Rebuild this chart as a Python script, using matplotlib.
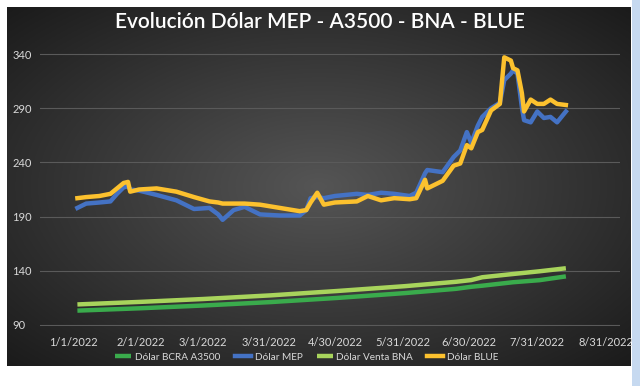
"""Evolucion Dolar MEP - A3500 - BNA - BLUE (2022)."""

import numpy as np
import pandas as pd
import matplotlib

matplotlib.use("Agg")
import matplotlib.pyplot as plt
from matplotlib.patches import Rectangle

# --- data ---
fechas_mep_blue = [
    "2022-01-03", "2022-01-07", "2022-01-13", "2022-01-18", "2022-01-21",
    "2022-01-24", "2022-01-26", "2022-01-27", "2022-01-31", "2022-02-08",
    "2022-02-17", "2022-02-25", "2022-03-04", "2022-03-08", "2022-03-10",
    "2022-03-15", "2022-03-20", "2022-03-27", "2022-04-05", "2022-04-14",
    "2022-04-17", "2022-04-19", "2022-04-22", "2022-04-25", "2022-04-30",
    "2022-05-10", "2022-05-15", "2022-05-21", "2022-05-27", "2022-06-03",
    "2022-06-06", "2022-06-10", "2022-06-11", "2022-06-18", "2022-06-23",
    "2022-06-26", "2022-06-29", "2022-07-01", "2022-07-04", "2022-07-06",
    "2022-07-10", "2022-07-14", "2022-07-16", "2022-07-19", "2022-07-20",
    "2022-07-22", "2022-07-24", "2022-07-25", "2022-07-28", "2022-07-31",
    "2022-08-03", "2022-08-06", "2022-08-09", "2022-08-13",
]
dolar_blue = [
    207, 208, 209, 211, 216, 221, 222, 213, 215, 216,
    213, 208, 204, 203, 202, 202, 202, 201, 198, 195,
    196, 203, 212, 201, 203, 204, 209, 205, 207, 206,
    207, 224, 216, 223, 237, 239, 256, 253, 268, 270,
    288, 294, 337, 334, 327, 325, 304, 287, 298, 294,
    294, 298, 294, 293,
]
dolar_mep = [
    198, 202, 203, 204, 211, 217, 218, 215, 214, 210,
    205, 197, 198, 192, 187, 196, 199, 192, 191, 191,
    196, 207, 208, 207, 209, 211, 210, 212, 211, 209,
    212, 230, 233, 231, 245, 251, 268, 258, 274, 282,
    290, 295, 316, 322, 325, 322, 291, 279, 277, 287,
    281, 282, 277, 287,
]

fechas_oficial = [
    "2022-01-03", "2022-02-01", "2022-03-01", "2022-04-01", "2022-05-01",
    "2022-06-01", "2022-06-24", "2022-07-01", "2022-07-06", "2022-07-20",
    "2022-08-01", "2022-08-13",
]
dolar_a3500 = [103.2, 105.4, 107.9, 111.1, 114.9, 119.4, 123.3, 125.2, 126.2, 129.4, 131.3, 134.8]
dolar_bna = [108.9, 111.3, 113.9, 117.3, 121.3, 125.8, 129.8, 131.4, 134.0, 137.0, 139.5, 142.3]

tick_fechas = [
    "2022-01-01", "2022-02-01", "2022-03-01", "2022-03-31", "2022-04-30",
    "2022-05-31", "2022-06-30", "2022-07-31", "2022-08-31",
]
tick_labels = ["1/1/2022", "2/1/2022", "3/1/2022", "3/31/2022", "4/30/2022",
               "5/31/2022", "6/30/2022", "7/31/2022", "8/31/2022"]
y_ticks = [90, 140, 190, 240, 290, 340]

titulo = "Evolución Dólar MEP - A3500 - BNA - BLUE"

plt.rcParams["font.family"] = ["Lato", "DejaVu Sans"]

fig = plt.figure(figsize=(6.4, 3.86), dpi=100)
fig.patch.set_facecolor("white")

# light blue strip on the right edge
fig.patches.append(Rectangle((632 / 640, 0), 8 / 640, 1, transform=fig.transFigure,
                             facecolor="#c6d9f0", edgecolor="none", zorder=0))

# dark chart area with radial gradient
bg = fig.add_axes([7 / 640, 1 - 366 / 386, 624 / 640, 359 / 386], zorder=0)
gx, gy = np.meshgrid(np.linspace(-1, 1, 400), np.linspace(-1, 1, 240))
r = np.clip(np.sqrt(gx ** 2 + gy ** 2) / np.sqrt(2), 0, 1)
inner = np.array([0x55, 0x55, 0x55]) / 255
outer = np.array([0x1b, 0x1b, 0x1b]) / 255
img = inner[None, None, :] * (1 - r[..., None]) + outer[None, None, :] * r[..., None]
bg.imshow(img, aspect="auto", extent=(0, 1, 0, 1))
bg.set_axis_off()

ax = fig.add_axes([40 / 640, 1 - 326 / 386, 580 / 640, 273 / 386], zorder=1)
ax.patch.set_alpha(0)

x_mep = pd.to_datetime(fechas_mep_blue)
x_of = pd.to_datetime(fechas_oficial)

lw = 3.2
ax.plot(x_of, dolar_a3500, color="#3aab4c", lw=lw, label="Dólar BCRA A3500", solid_capstyle="butt")
ax.plot(x_mep, dolar_mep, color="#4472c4", lw=lw, label="Dólar MEP", solid_joinstyle="round")
ax.plot(x_of, dolar_bna, color="#a8d45c", lw=lw, label="Dólar Venta BNA", solid_capstyle="butt")
ax.plot(x_mep, dolar_blue, color="#fcc12e", lw=lw, label="Dólar BLUE", solid_joinstyle="round")

ax.set_ylim(89, 341)
ax.set_yticks(y_ticks)
x0 = pd.Timestamp("2022-01-01")
ax.set_xlim(x0 - pd.Timedelta(days=15), x0 + pd.Timedelta(days=248.6))
ax.set_xticks(pd.to_datetime(tick_fechas))
ax.set_xticklabels(tick_labels)

ax.grid(axis="y", color="#5a5a5a", lw=0.8)
ax.set_axisbelow(True)
for s in ax.spines.values():
    s.set_visible(False)
ax.tick_params(length=0, colors="#d9d9d9", labelsize=8)
ax.tick_params(axis="x", pad=8)
ax.tick_params(axis="y", pad=2)
for lab in ax.get_yticklabels():
    lab.set_horizontalalignment("left")
    lab.set_x(-25 / 580)

fig.text(320 / 640, 1 - 22 / 386, titulo, color="white", fontsize=15,
         fontweight="semibold", ha="center", va="center")

leg = fig.legend(loc="center", bbox_to_anchor=(307 / 640, 1 - 357 / 386), ncol=4,
                 frameon=False, fontsize=7.2, handlelength=1.6, columnspacing=1.4,
                 handletextpad=0.4, labelcolor="#d9d9d9")

fig.savefig("out.png", dpi=100, facecolor="white")
